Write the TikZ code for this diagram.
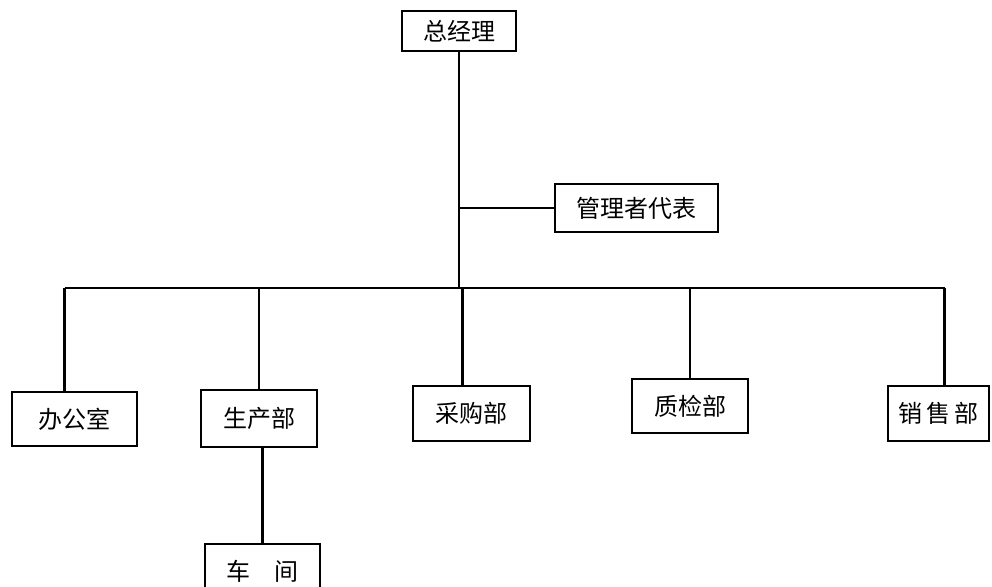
\documentclass[tikz,border=0pt]{standalone}
\usepackage{fontspec}
\newfontfamily\cjk{Noto Sans CJK SC}
\usepackage{tikz}
\usetikzlibrary{positioning,calc}

\begin{document}
\begin{tikzpicture}[
    x=0.5pt, y=-0.5pt,
    box/.style={rectangle, draw, line width=1.3pt, inner sep=0pt, font=\cjk\fontsize{12}{14}\selectfont},
    link/.style={line width=1.3pt}
]
    \clip (0,0) rectangle (992,587);

    \node[box, minimum width=57pt, minimum height=20pt] (gm) at (459,31) {总经理};
    \node[box, minimum width=81.5pt, minimum height=24pt] (rep) at (636.5,208) {管理者代表};
    \node[box, minimum width=62.5pt, minimum height=27pt] (office) at (74.5,419) {办公室};
    \node[box, minimum width=58pt, minimum height=28.5pt] (prod) at (259,418.5) {生产部};
    \node[box, minimum width=58.5pt, minimum height=27.5pt] (buy) at (471.5,413.5) {采购部};
    \node[box, minimum width=58pt, minimum height=27pt] (qc) at (690,406) {质检部};
    \node[box, minimum width=50.5pt, minimum height=27.5pt] (sales) at (938.5,413.5) {销\,售\,部};
    \node[box, minimum width=57.5pt, minimum height=27.5pt] (shop) at (262.5,571.5) {车\quad 间};

    \coordinate (bus) at (0,288);

    \draw[link] (gm.south) -- (gm.south |- bus);
    \draw[link] (gm.south |- rep.west) -- (rep.west);
    \draw[link] ([xshift=-5pt]office.north |- bus) -- ([xshift=-5pt]office.north);
    \draw[link] ([xshift=-5pt]office.north |- bus) -- ([xshift=3pt]sales.north |- bus);
    \draw[link] (prod.north |- bus) -- (prod.north);
    \draw[link] ([xshift=-4.5pt]buy.north |- bus) -- ([xshift=-4.5pt]buy.north);
    \draw[link] (qc.north |- bus) -- (qc.north);
    \draw[link] ([xshift=3pt]sales.north |- bus) -- ([xshift=3pt]sales.north);
    \draw[link] (shop.north |- prod.south) -- (shop.north);
\end{tikzpicture}
\end{document}
